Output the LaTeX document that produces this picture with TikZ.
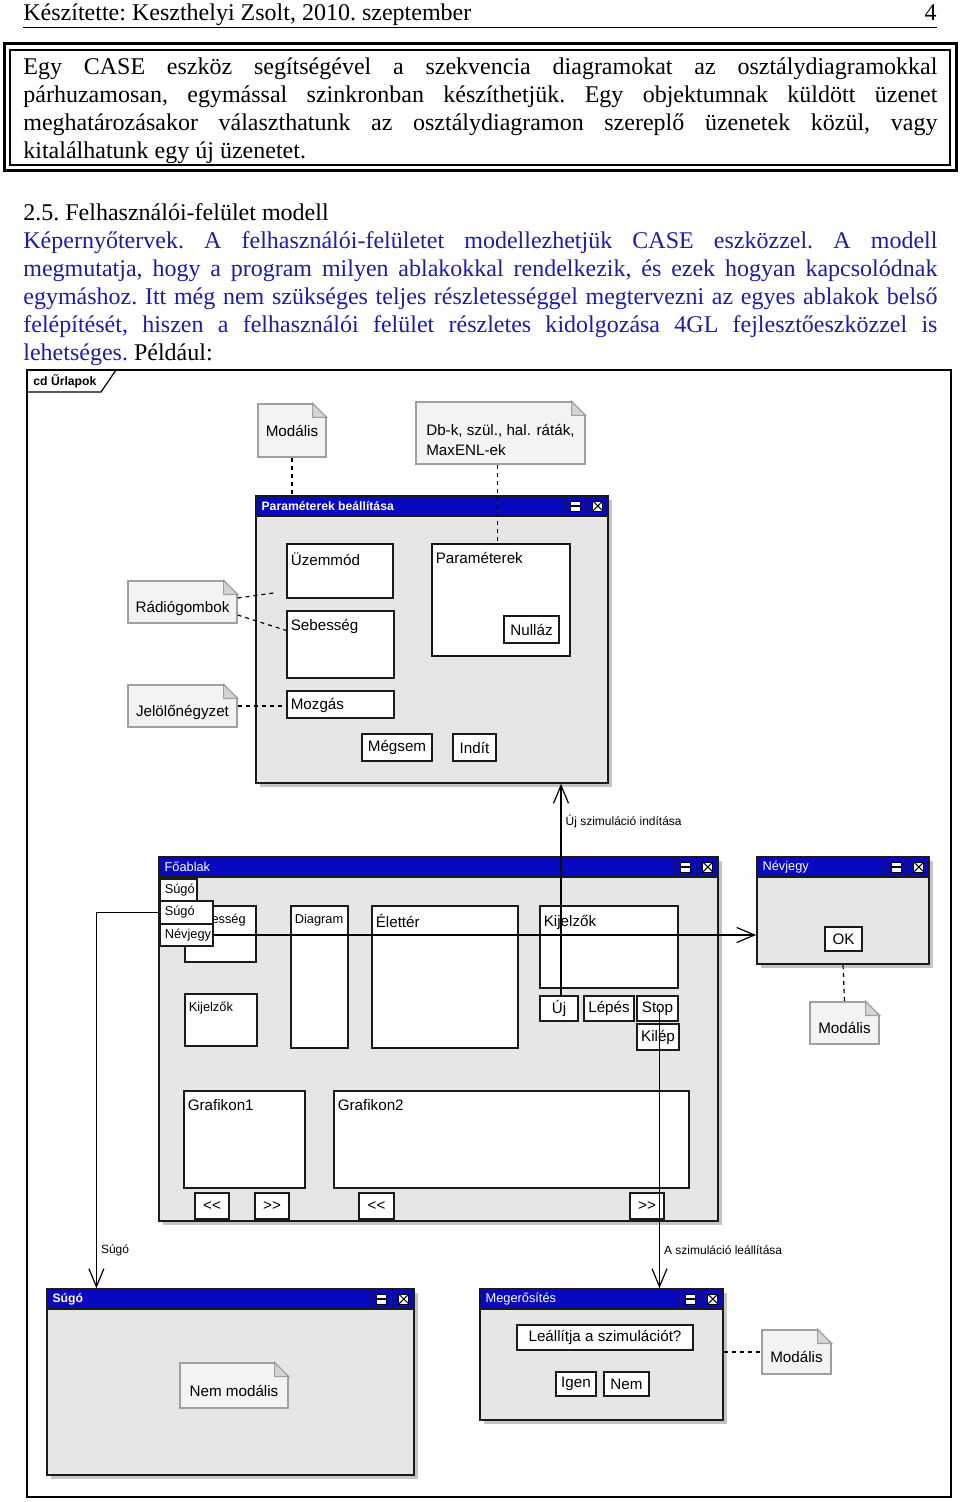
\documentclass[tikz,border=0pt]{standalone}
\usepackage{fontspec}
\setmainfont{Liberation Serif}
\newfontfamily\uisans{Liberation Sans}
\usepackage{xcolor}
\usetikzlibrary{positioning, arrows.meta, calc, fit, shadows}
\definecolor{titleblue}{HTML}{0808C0}
\definecolor{parablue}{HTML}{1C1CA6}
\definecolor{wingrey}{HTML}{E6E6E6}
\definecolor{shadowgrey}{HTML}{C4C4C4}
\definecolor{notefill}{HTML}{F4F2F4}
\definecolor{notebrd}{HTML}{A0A0A0}
\definecolor{foldfill}{HTML}{D4D4D4}
\definecolor{boxbrd}{HTML}{1A1A1A}

\newcommand\bodyfont{\fontsize{12}{14}\selectfont\frenchspacing}
\newcommand\uifont{\uisans\fontsize{7.6}{9.5}\selectfont}
\newcommand\smallui{\uisans\fontsize{6.4}{8}\selectfont}
\newcommand\tinyui{\uisans\fontsize{6}{7}\selectfont}
\newcommand\ttlfont{\uisans\fontsize{6.4}{8}\selectfont}
\newcommand\ttlbold{\uisans\bfseries\fontsize{6.1}{8}\selectfont}

% minimise and close icons at the right end of a title bar
\newcommand\tbicons[1]{%
  \draw[boxbrd, line width=0.6pt] ($(#1.north east)+(-44,0)$) -- ($(#1.south east)+(-44,0)$)
    ($(#1.north east)+(-22,0)$) -- ($(#1.south east)+(-22,0)$);
  \draw[fill=white, line width=0.5pt] ($(#1.east)+(-38,-5)$) rectangle ($(#1.east)+(-28,5)$);
  \draw[line width=1.2pt] ($(#1.east)+(-38,0)$) -- ($(#1.east)+(-28,0)$);
  \draw[fill=white, line width=0.5pt] ($(#1.east)+(-16,-5)$) rectangle ($(#1.east)+(-6,5)$);
  \draw[line width=0.5pt] ($(#1.east)+(-16,-5)$) -- ($(#1.east)+(-6,5)$)
    ($(#1.east)+(-16,5)$) -- ($(#1.east)+(-6,-5)$);
}

\tikzset{
  field/.style={draw=boxbrd, fill=white, line width=0.6pt, inner sep=0pt},
  btn/.style={field, font=\uifont},
  lbl/.style={anchor=north west, inner sep=2pt, yshift=-2.5pt, font=\uifont},
  lblsmall/.style={anchor=north west, inner sep=2pt, yshift=-2pt, font=\smallui},
  lblw/.style={anchor=west, inner sep=2.5pt, font=\smallui},
  win/.style={draw=boxbrd, fill=wingrey, line width=0.8pt, inner sep=0pt,
    drop shadow={shadow xshift=2pt, shadow yshift=-2pt, fill=shadowgrey, opacity=1}},
  titlebar/.style={draw=boxbrd, fill=titleblue, line width=0.8pt, inner sep=0pt},
  ttl/.style={anchor=west, inner sep=3pt, text=white, font=\ttlfont},
  notebase/.style={draw=notebrd, fill=notefill, line width=0.6pt, inner sep=0pt, font=\uifont},
  note/.style={notebase, text height=12pt, text depth=1.5pt},
  dashedline/.style={draw=black, line width=0.6pt, dash pattern=on 2pt off 2pt},
  arr/.style={draw=black, line width=0.6pt, -{Straight Barb[length=9pt, width=7.5pt]}},
  arrlbl/.style={font=\tinyui, inner sep=2pt},
}

\begin{document}
\begin{tikzpicture}[x=0.5pt, y=-0.5pt]
\useasboundingbox (0,0) rectangle (960,1502);

% page head
\node[anchor=base west, inner sep=0pt, font=\bodyfont] (hdr) at (23,21) {Készítette: Keszthelyi Zsolt, 2010. szeptember};
\node[anchor=base east, inner sep=0pt, font=\bodyfont] (pgno) at (937,21) {4};
\draw[line width=0.5pt] (23,28) -- (937,28);

% boxed remark
\draw[line width=1.5pt] (4,43.5) rectangle (956,171);
\draw[line width=0.7pt] (10,50) rectangle (950,165);
\node[anchor=north west, text width=457pt, align=justify, inner sep=0pt, font=\bodyfont] (intro) at (23,54.4)
  {\hyphenpenalty=10000\exhyphenpenalty=10000\strut Egy CASE eszköz segítségével a szekvencia diagramokat az osztálydiagramokkal\linebreak
   párhuzamosan, egymással szinkronban készíthetjük. Egy objektumnak küldött üzenet\linebreak
   meghatározásakor választhatunk az osztálydiagramon szereplő üzenetek közül, vagy\linebreak
   kitalálhatunk egy új üzenetet.};

\node[anchor=north west, text width=457pt, align=justify, inner sep=0pt, font=\bodyfont] (sect) at (23,200.4)
  {\hyphenpenalty=10000\exhyphenpenalty=10000\strut 2.5. Felhasználói-felület modell\\
   \color{parablue}Képernyőtervek. A felhasználói-felületet modellezhetjük CASE eszközzel. A modell\linebreak
   megmutatja, hogy a program milyen ablakokkal rendelkezik, és ezek hogyan kapcsolódnak\linebreak
   egymáshoz. Itt még nem szükséges teljes részletességgel megtervezni az egyes ablakok belső\linebreak
   felépítését, hiszen a felhasználói felület részletes kidolgozása 4GL fejlesztőeszközzel is\linebreak
   lehetséges. \textcolor{black}{Például:}};

% diagram frame
\node[draw, line width=0.6pt, inner sep=0pt, fit={(27,370) (951,1497)}] (frame) {};
\draw[line width=0.6pt] (27,392) -- (101,392) -- (116,370);
\node[anchor=west, inner sep=0pt, font=\ttlbold] (cdtab) at (33,381) {cd Űrlapok};

% Parameterek beallitasa
\node[win, fit={(256,496) (608,783)}] (par) {};
\node[titlebar, fit={(256,496) (608,516)}, label={[ttl, font=\ttlbold]west:Paraméterek beállítása}] (partitle) {};
\tbicons{partitle}
\node[field, fit={(287,544) (393,598)}, label={[lbl]north west:Üzemmód}] (uzem) {};
\node[field, fit={(287,611) (394,678)}, label={[lbl]north west:Sebesség}] (sebes) {};
\node[field, fit={(287,691) (394,718)}, label={[lbl, yshift=0.5pt]north west:Mozgás}] (mozgas) {};
\node[field, fit={(432,544) (570,656)}, label={[lbl]north west:Paraméterek}] (params) {};
\node[btn, minimum width=27.5pt, minimum height=13.5pt] (nullaz) at (531.5,629.5) {Nulláz};
\node[btn, minimum width=35pt, minimum height=13.5pt] (megsem) at (397,747.5) {Mégsem};
\node[btn, minimum width=21.5pt, minimum height=13.5pt] (indit) at (474.5,747.5) {Indít};

% Foablak
\node[win, fit={(159,857) (718,1221)}] (foablak) {};
\node[titlebar, fit={(159,857) (718,877)}, label={[ttl]west:Főablak}] (fotitle) {};
\tbicons{fotitle}
\node[field, fit={(185,906) (256,962)}, label={[lblsmall]north west:Sebesség}] (sebes2) {};
\node[field, fit={(291,906) (348,1048)}, label={[lblsmall]north west:Diagram}] (diagram) {};
\node[field, fit={(372,906) (518,1048)}, label={[lbl]north west:Élettér}] (elet) {};
\node[field, fit={(540,906) (678,988)}, label={[lbl]north west:Kijelzők}] (kijel) {};
\node[btn, minimum width=19pt, minimum height=12.5pt] (uj) at (559,1008.5) {Új};
\node[btn, minimum width=25pt, minimum height=12.5pt] (lepes) at (609,1008.5) {Lépés};
\node[btn, minimum width=20.5pt, minimum height=12.5pt] (stop) at (657.5,1008.5) {Stop};
\node[btn, minimum width=21pt, minimum height=13pt] (kilep) at (658,1037) {Kilép};
\node[field, fit={(185,994) (257,1046)}, label={[lblsmall]north west:Kijelzők}] (kijel2) {};
\node[field, fit={(184,1091) (305,1188)}, label={[lbl]north west:Grafikon1}] (graf1) {};
\node[field, fit={(334,1091) (689,1188)}, label={[lbl]north west:Grafikon2}] (graf2) {};
\node[btn, minimum width=17pt, minimum height=13pt] (vissza1) at (212,1206) {<{}<};
\node[btn, minimum width=17pt, minimum height=13pt] (elore1) at (272,1206) {>{}>};
\node[btn, minimum width=17.5pt, minimum height=13pt] (vissza2) at (376.5,1206) {<{}<};
\node[btn, minimum width=17pt, minimum height=13pt] (elore2) at (647,1206) {>{}>};
% menu
\node[field, fit={(160,879) (197,901)}, label={[lblw]west:Súgó}] (msugo) {};
\node[field, fit={(160,901) (213,924)}, label={[lblw]west:Súgó}] (mdd1) {};
\node[field, fit={(160,924) (213,946)}, label={[lblw]west:Névjegy}] (mnev) {};

% Nevjegy
\node[win, fit={(757,857) (929,964)}] (nevjwin) {};
\node[titlebar, fit={(757,857) (929,877)}, label={[ttl]west:Névjegy}] (nevjtitle) {};
\tbicons{nevjtitle}
\node[btn, minimum width=18.5pt, minimum height=12pt] (ok) at (843.5,939) {OK};

% Sugo
\node[win, fit={(47,1289) (414,1475)}] (sugowin) {};
\node[titlebar, fit={(47,1289) (414,1309)}, label={[ttl, font=\ttlbold]west:Súgó}] (sugotitle) {};
\tbicons{sugotitle}

% Megerosites
\node[win, fit={(480,1289) (723,1420)}] (megwin) {};
\node[titlebar, fit={(480,1289) (723,1309)}, label={[ttl]west:Megerősítés}] (megtitle) {};
\tbicons{megtitle}
\node[btn, minimum width=88pt, minimum height=12.5pt] (leall) at (605,1337.5) {Leállítja a szimulációt?};
\node[btn, minimum width=20pt, minimum height=12pt] (igen) at (576,1384) {Igen};
\node[btn, minimum width=22.5pt, minimum height=12pt] (nem) at (626.5,1384) {Nem};

% notes
\node[notebase, minimum width=34pt, minimum height=26.5pt] (nmod1) at (292,430.5) {Modális};
\node[notebase, align=left, text height=22pt, text depth=0pt, minimum width=84.5pt, minimum height=31pt] (ndb) at (500.5,433) {Db-k, szül., hal. ráták,\\MaxENL-ek};
\node[note, minimum width=54.5pt, minimum height=21pt] (nradio) at (182.5,602) {Rádiógombok};
\node[note, minimum width=54.5pt, minimum height=21pt] (njelolo) at (182.5,706) {Jelölőnégyzet};
\node[note, minimum width=34.5pt, minimum height=21pt] (nmod2) at (844.5,1023) {Modális};
\node[note, minimum width=54pt, minimum height=22.5pt] (nnemmod) at (234,1385.5) {Nem modális};
\node[note, minimum width=34.5pt, minimum height=22pt] (nmod3) at (796.5,1352) {Modális};
\foreach \n/\bg in {nmod1/white, ndb/white, nradio/white, njelolo/white, nmod2/white, nnemmod/wingrey, nmod3/white} {
  \fill[\bg] ($(\n.north east)+(-14,-1)$) -- ($(\n.north east)+(1,-1)$) -- ($(\n.north east)+(1,14)$) -- cycle;
  \filldraw[draw=notebrd, fill=foldfill, line width=0.6pt] ($(\n.north east)+(-14,0)$) -- ($(\n.north east)+(-14,14)$) -- ($(\n.north east)+(0,14)$) -- cycle;
}

% note links
\draw[dashedline] (nmod1.south) -- (nmod1.south |- partitle.north);
\draw[dashedline] ([xshift=-1.5pt]ndb.south) -- ([xshift=-1.5pt]ndb.south |- params.north);
\draw[dashedline] ([yshift=2pt]nradio.east) -- ([xshift=-5pt, yshift=3pt]uzem.south west);
\draw[dashedline] ([yshift=-6.5pt]nradio.east) -- ([yshift=7pt]sebes.west);
\draw[dashedline] (njelolo.east) -- (njelolo.east -| mozgas.west);
\draw[dashedline] (nevjwin.south) -- (nmod2.north);
\draw[dashedline] (nmod3.west -| megwin.east) -- (nmod3.west);

% navigation
\coordinate (sugoturn) at ($(mdd1.west)+(-63,0)$);
\draw[arr] ([xshift=1pt]uj.north) -- node[arrlbl, pos=0.82, right] (lblnew) {Új szimuláció indítása} ([xshift=1pt]uj.north |- par.south);
\draw[arr] ([xshift=1pt]stop.center) -- node[arrlbl, pos=0.864, right] (lblstop) {A szimuláció leállítása} ([xshift=1pt]stop.center |- megtitle.north);
\draw[arr] (mnev.east) -- (mnev.east -| nevjwin.west);
\draw[arr] (mdd1.west) -- (sugoturn) -- node[arrlbl, pos=0.9, right] (lblsugo) {Súgó} (sugoturn |- sugotitle.north);
\end{tikzpicture}
\end{document}
